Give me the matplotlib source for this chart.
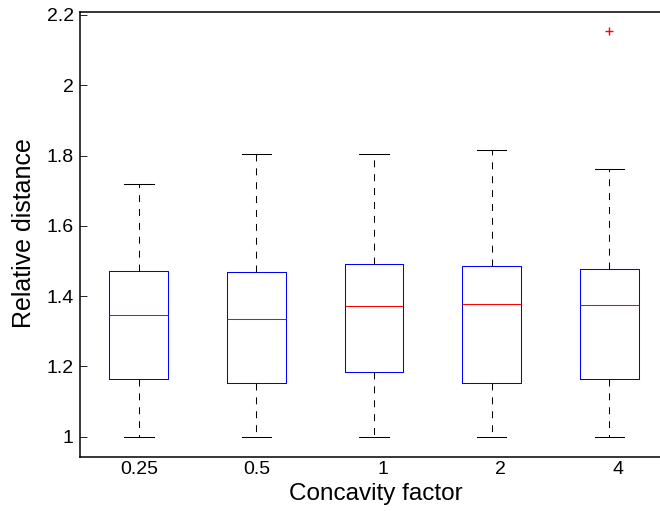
import matplotlib
matplotlib.use("Agg")
import matplotlib.pyplot as plt
import matplotlib.transforms as mtransforms

plt.rcParams["font.family"] = ["Liberation Sans", "DejaVu Sans"]
plt.rcParams["lines.scale_dashes"] = False

# concavity factors and the five-number summary of each group
labels = ["0.25", "0.5", "1", "2", "4"]
q1 = [1.164, 1.152, 1.183, 1.152, 1.163]
med = [1.347, 1.335, 1.371, 1.378, 1.375]
q3 = [1.472, 1.468, 1.491, 1.485, 1.476]
whislo = [1.0, 1.0, 1.0, 1.0, 1.0]
whishi = [1.718, 1.804, 1.804, 1.815, 1.761]
fliers = [[], [], [], [], [2.155]]

yticks = [1, 1.2, 1.4, 1.6, 1.8, 2, 2.2]

stats = []
for i in range(len(labels)):
    stats.append({
        "label": labels[i],
        "q1": q1[i], "med": med[i], "q3": q3[i],
        "whislo": whislo[i], "whishi": whishi[i],
        "fliers": fliers[i],
    })

fig = plt.figure(figsize=(6.6, 5.11), dpi=100)
ax = fig.add_axes([80 / 660, 0.1051, 588 / 660, 0.8714])

lw = 0.75
ax.bxp(
    stats,
    positions=range(1, len(labels) + 1),
    widths=0.5,
    capwidths=0.25,
    boxprops=dict(color="blue", linewidth=lw),
    medianprops=dict(color="red", linewidth=lw),
    whiskerprops=dict(color="black", linewidth=lw, linestyle=(0, (5, 5))),
    capprops=dict(color="black", linewidth=lw),
    flierprops=dict(marker="+", markeredgecolor="red", markersize=6,
                    markeredgewidth=1.0, linestyle="none"),
)

ax.set_xlim(0.5, 5.5)
ax.set_ylim(0.941, 2.2085)
ax.set_yticks(yticks)
ax.set_yticklabels([f"{t:g}" for t in yticks])
ax.tick_params(axis="y", direction="in", length=5, width=0.6, pad=4.5,
               labelsize=14, right=False)
ax.tick_params(axis="x", length=0, pad=3, labelsize=14)
ax.set_xticks(range(1, len(labels) + 1))
ax.set_xticklabels(labels)

# single-digit labels sit a little right of their box
for lab in ax.get_xticklabels():
    if len(lab.get_text()) == 1:
        lab.set_transform(lab.get_transform() + mtransforms.ScaledTranslation(
            8.5 / 100, 0, fig.dpi_scale_trans))

for side in ["left", "bottom", "top"]:
    ax.spines[side].set_linewidth(1.1)
ax.spines["right"].set_visible(False)

fig.text(24 / 660, 1 - 233.5 / 511, "Relative distance", fontsize=18,
         rotation=90, ha="center", va="center")
fig.text(375.5 / 660, 1 - 500 / 511, "Concavity factor", fontsize=17.5,
         ha="center", va="baseline")

fig.savefig("out.png", dpi=100)
